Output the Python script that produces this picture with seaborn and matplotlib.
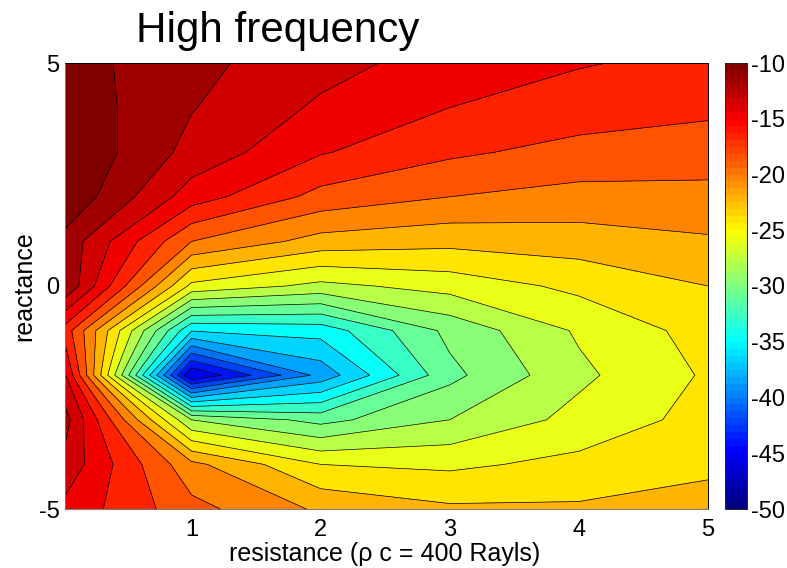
import numpy as np
import seaborn as sns
import matplotlib.pyplot as plt
from matplotlib.cm import ScalarMappable
from matplotlib.colors import Normalize

resistance = [0.02, 1, 2, 3, 4, 5]
reactance = [-5, -4, -3, -2, -1, 0, 1, 2, 3, 4, 5]

# one list per reactance row (dB)
row_m5 = [-14.1, -18.4, -21.1, -22.3, -22.34, -21.6]
row_m4 = [-12.4, -20.3, -24.4, -24.76, -23.9, -23.13]
row_m3 = [-11.1, -28.0, -30.4, -28.0, -25.6, -23.75]
row_m2 = [-13.4, -46.0, -38.2, -30.3, -26.6, -24.15]
row_m1 = [-16.2, -35.1, -34.5, -29.3, -25.95, -23.66]
row_0 = [-10.2, -24.86, -26.7, -25.5, -23.95, -22.6]
row_1 = [-10.6, -19.0, -21.5, -22.06, -21.7, -21.03]
row_2 = [-8.5, -14.5, -17.8, -19.0, -19.6, -19.55]
row_3 = [-8.3, -12.4, -15.25, -16.87, -17.82, -18.1]
row_4 = [-8.8, -11.7, -13.9, -15.4, -16.2, -16.83]
row_5 = [-9.2, -11.3, -12.95, -14.4, -15.28, -15.85]

contour_levels = [-44.2, -42.4, -40.6, -38.8, -37.0, -35.2, -33.4, -31.6, -29.8, -28.0,
                  -26.2, -24.4, -22.6, -20.8, -19.0, -17.2, -15.4, -13.6, -11.8, -10.0]
# colour each band gets on the -50..-10 scale, inner region first
band_values = [-45.6, -43.8, -42.0, -40.2, -38.4, -36.6, -34.8, -33.0, -31.2, -29.4, -27.6,
               -25.8, -24.0, -22.2, -20.4, -18.6, -16.8, -15.0, -13.2, -11.4, -9.6]
colorbar_ticks = [-50, -45, -40, -35, -30, -25, -20, -15, -10]

sns.set_style("white")
plt.rcParams['font.family'] = ['Liberation Sans', 'DejaVu Sans']
plt.rcParams['axes.unicode_minus'] = False
plt.rcParams['text.color'] = 'k'
plt.rcParams['axes.labelcolor'] = 'k'
plt.rcParams['xtick.labelcolor'] = 'k'
plt.rcParams['ytick.labelcolor'] = 'k'

# matlab style jet, 64 steps
jet = sns.blend_palette([(0, 0, .5), (0, 0, 1), (0, .5, 1), (0, 1, 1), (.5, 1, .5),
                         (1, 1, 0), (1, .5, 0), (1, 0, 0), (.5, 0, 0)],
                        as_cmap=True).resampled(64)
norm = Normalize(-50, -10)

z = np.array([row_m5, row_m4, row_m3, row_m2, row_m1, row_0, row_1, row_2, row_3, row_4, row_5])

W, H = 787, 568
fig = plt.figure(figsize=(W / 100, H / 100), dpi=100)
ax = fig.add_axes([65 / W, 1 - 509 / H, 643 / W, 446 / H])
cax = fig.add_axes([725 / W, 1 - 509 / H, 22 / W, 446 / H])

edges = [-60] + contour_levels + [0]
ax.contourf(resistance, reactance, z, levels=edges,
            colors=[jet(norm(v)) for v in band_values])
ax.contour(resistance, reactance, z, levels=contour_levels, colors='k',
           linewidths=0.5, linestyles='solid')

ax.set_xlim(0.02, 5)
ax.set_ylim(-5, 5)
ax.set_xticks([1, 2, 3, 4, 5])
ax.set_yticks([-5, 0, 5])
ax.tick_params(direction='in', length=6, width=0.6, top=True, right=True,
               bottom=True, left=True, labelsize=17, pad=7, color='k')
ax.tick_params(axis='y', pad=4)
ax.set_xlabel('resistance (\u03c1 c = 400 Rayls)', fontsize=18, labelpad=1, x=0.4975)
ax.set_ylabel('reactance', fontsize=18, labelpad=2)
for s in ax.spines.values():
    s.set_linewidth(0.7)
    s.set_color('k')
ax.spines['left'].set_color('#777777')
ax.spines['bottom'].set_color('#777777')

cb = fig.colorbar(ScalarMappable(norm=norm, cmap=jet), cax=cax, ticks=colorbar_ticks)
cb.ax.tick_params(direction='in', length=4, width=0.6, labelsize=17, pad=3, color='k')
cb.outline.set_linewidth(0.7)

fig.text(278 / W, 1 - 31 / H, 'High frequency', fontsize=30.3, ha='center', va='center')

fig.savefig('out.png', dpi=100)
plt.close('all')
